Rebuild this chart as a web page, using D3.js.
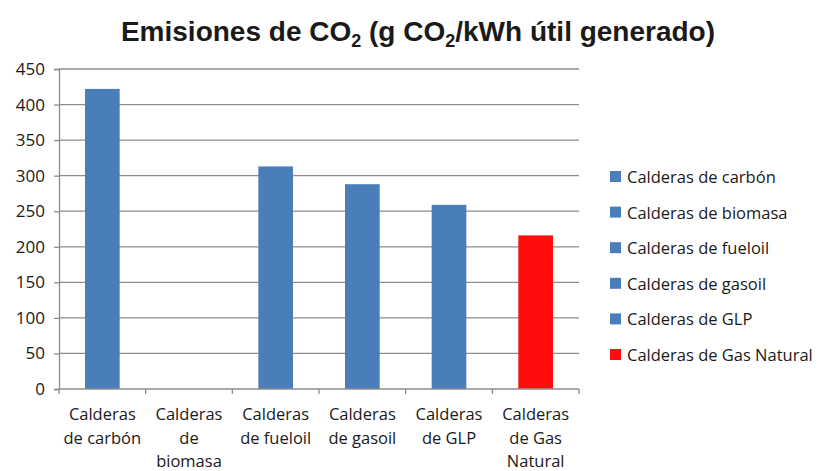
<!DOCTYPE html>
<html>
<head>
<meta charset="utf-8">
<script src="https://cdn.jsdelivr.net/npm/d3@7"></script>
<style>
  body { margin: 0; background: #fff; }
  svg text { fill: #1a1a1a; }
</style>
</head>
<body>
<svg id="chart" width="819" height="471"></svg>
<script>
// data
var categories = ["Calderas de carbón", "Calderas de biomasa", "Calderas de fueloil",
                  "Calderas de gasoil", "Calderas de GLP", "Calderas de Gas Natural"];
var axisLabels = [["Calderas", "de carbón"], ["Calderas", "de", "biomasa"], ["Calderas", "de fueloil"],
                  ["Calderas", "de gasoil"], ["Calderas", "de GLP"], ["Calderas", "de Gas", "Natural"]];
var values = [422, 0, 313, 288, 259, 216];
var barColors = ["#4a7ebb", "#4a7ebb", "#4a7ebb", "#4a7ebb", "#4a7ebb", "#ff0d0d"];
var yTicks = [0, 50, 100, 150, 200, 250, 300, 350, 400, 450];

var svg = d3.select("#chart");
var font = "'Open Sans', sans-serif";

var margin = {top: 69, left: 59, right: 240, bottom: 82},
    width = 819 - margin.left - margin.right,
    height = 471 - margin.top - margin.bottom;

var g = svg.append("g")
    .attr("transform", "translate(" + margin.left + "," + margin.top + ")");

var x = d3.scaleBand().domain(categories).range([0, width]).paddingInner(0.6).paddingOuter(0.3);
var y = d3.scaleLinear().domain([0, 450]).range([height, 0]);

// title
var title = svg.append("text")
    .attr("x", 418).attr("y", 41)
    .attr("text-anchor", "middle")
    .style("font-family", "'Liberation Sans', Arial, sans-serif")
    .style("font-weight", "bold")
    .style("font-size", "28px");
title.append("tspan").text("Emisiones de CO");
title.append("tspan").text("2").attr("dy", 6).style("font-size", "18px");
title.append("tspan").text(" (g CO").attr("dy", -6);
title.append("tspan").text("2").attr("dy", 6).style("font-size", "18px");
title.append("tspan").text("/kWh útil generado").attr("dy", -6);
title.append("tspan").text(")");

// gridlines
g.append("g")
  .selectAll("line")
  .data(yTicks.slice(1))
  .enter().append("line")
    .attr("x1", 0).attr("x2", width)
    .attr("y1", d => y(d)).attr("y2", d => y(d))
    .attr("stroke", "#8c8c8c").attr("stroke-width", 1.3);

// y axis
var yAxis = g.append("g")
    .call(d3.axisLeft(y).tickValues(yTicks).tickSize(5).tickPadding(9));
yAxis.select(".domain").attr("stroke", "#8c8c8c").attr("stroke-width", 1.3);
yAxis.selectAll(".tick line").attr("stroke", "#8c8c8c").attr("stroke-width", 1.3);
yAxis.selectAll("text").style("font-family", font).style("font-size", "17px").attr("fill", "#1a1a1a");

// bars
g.selectAll("rect.bar")
  .data(values)
  .enter().append("rect")
    .attr("class", "bar")
    .attr("x", (d, i) => x(categories[i]))
    .attr("y", d => y(d))
    .attr("width", x.bandwidth())
    .attr("height", d => height - y(d))
    .attr("fill", (d, i) => barColors[i]);

// x axis (ticks on band boundaries)
var step = x.step();
var xg = g.append("g").attr("transform", "translate(0," + height + ")");
xg.append("line").attr("x1", 0).attr("x2", width).attr("stroke", "#8c8c8c").attr("stroke-width", 1.3);
xg.selectAll("line.tk")
  .data(d3.range(categories.length + 1))
  .enter().append("line")
    .attr("class", "tk")
    .attr("x1", d => d * step).attr("x2", d => d * step)
    .attr("y1", 0).attr("y2", 5)
    .attr("stroke", "#8c8c8c").attr("stroke-width", 1.3);

xg.selectAll("text.lab")
  .data(axisLabels)
  .enter().append("text")
    .attr("class", "lab")
    .attr("text-anchor", "middle")
    .attr("x", (d, i) => x(categories[i]) + x.bandwidth() / 2)
    .attr("y", 31)
    .style("font-family", font).style("font-size", "16.5px")
    .each(function(d) {
      var t = d3.select(this);
      d.forEach(function(line, k) {
        t.append("tspan").attr("x", t.attr("x")).attr("dy", k === 0 ? 0 : 23.5).text(line);
      });
    });

// legend
var legend = svg.append("g").attr("transform", "translate(610,177)");
var rows = legend.selectAll("g")
  .data(categories)
  .enter().append("g")
    .attr("transform", (d, i) => "translate(0," + i * 35.6 + ")");
rows.append("rect")
    .attr("x", 0).attr("y", -6).attr("width", 11).attr("height", 11)
    .attr("fill", (d, i) => barColors[i]);
rows.append("text")
    .attr("x", 17).attr("y", 6)
    .style("font-family", font).style("font-size", "16.5px")
    .text(d => d);
</script>
</body>
</html>
